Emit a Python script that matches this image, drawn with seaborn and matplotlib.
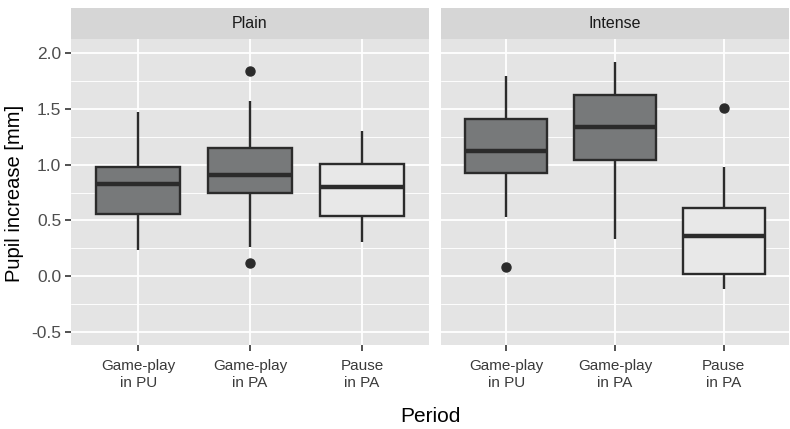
import numpy as np
import pandas as pd
import seaborn as sns
import matplotlib.pyplot as plt
from matplotlib.ticker import MultipleLocator

sns.set_theme(style="darkgrid")
plt.rcParams['font.family'] = ['Liberation Sans', 'DejaVu Sans']

# values (box summary per period)
conditions = ["Plain", "Intense"]
periods = ["Game-play\nin PU", "Game-play\nin PA", "Pause\nin PA"]

plain_lo = [0.234, 0.26, 0.303]
plain_q1 = [0.56, 0.743, 0.539]
plain_med = [0.824, 0.907, 0.797]
plain_q3 = [0.977, 1.15, 1.01]
plain_hi = [1.47, 1.575, 1.30]
plain_out = [[], [0.117, 1.84], []]

intense_lo = [0.533, 0.335, -0.114]
intense_q1 = [0.928, 1.045, 0.018]
intense_med = [1.123, 1.336, 0.362]
intense_q3 = [1.408, 1.623, 0.608]
intense_hi = [1.80, 1.923, 0.979]
intense_out = [[0.078], [], [1.512]]

fill_colors = {periods[0]: "#76797b", periods[1]: "#76797b", periods[2]: "#e8e8e8"}


def sample_from_summary(lo, q1, med, q3, hi, out):
    # 9 points whose quartiles / whiskers match the summary exactly
    lows = sorted(o for o in out if o < lo) + [lo]
    highs = [hi] + sorted(o for o in out if o > hi)
    lows = lows + [q1] * (2 - len(lows))
    highs = [q3] * (2 - len(highs)) + highs
    return lows + [q1, med, med, med, q3] + highs


rows = []
summaries = {
    "Plain": (plain_lo, plain_q1, plain_med, plain_q3, plain_hi, plain_out),
    "Intense": (intense_lo, intense_q1, intense_med, intense_q3, intense_hi, intense_out),
}
for cond in conditions:
    lo, q1, med, q3, hi, out = summaries[cond]
    for i, p in enumerate(periods):
        for v in sample_from_summary(lo[i], q1[i], med[i], q3[i], hi[i], out[i]):
            rows.append({"condition": cond, "period": p, "value": v})
df = pd.DataFrame(rows)

W, H = 790, 429
fig = plt.figure(figsize=(W / 100, H / 100), dpi=100)
fig.patch.set_facecolor("white")

panel_x = [(71, 429), (441, 789)]
top_px, bottom_px = 39, 345
strip_top = 8

line_col = "#2b2b2b"
for k, cond in enumerate(conditions):
    x0, x1 = panel_x[k]
    ax = fig.add_axes([x0 / W, (H - bottom_px) / H, (x1 - x0) / W, (bottom_px - top_px) / H])
    sub = df[df["condition"] == cond]
    sns.boxplot(data=sub, x="period", y="value", hue="period", order=periods,
                hue_order=periods, palette=fill_colors, legend=False, width=0.75,
                linecolor=line_col, linewidth=1.7, showcaps=False, whis=1.5,
                medianprops={"linewidth": 3.2, "color": line_col},
                flierprops={"marker": "o", "markersize": 6.5, "markerfacecolor": line_col,
                            "markeredgecolor": line_col},
                ax=ax, zorder=3)
    ax.set_facecolor("#e4e4e4")
    ax.set_xlim(-0.6, 2.6)
    ax.set_ylim(-0.62, 2.13)
    ax.yaxis.set_major_locator(MultipleLocator(0.5))
    ax.yaxis.set_minor_locator(MultipleLocator(0.25))
    ax.grid(which="major", color="white", linewidth=1.3)
    ax.grid(which="minor", axis="y", color="white", linewidth=0.65)
    ax.set_axisbelow(True)
    for s in ax.spines.values():
        s.set_visible(False)
    ax.set_xlabel("")
    ax.set_ylabel("")
    ax.tick_params(axis="x", which="major", length=4, width=1.2, color="#333333",
                   labelcolor="#3a3a3a", labelsize=11, pad=6, bottom=True)
    ax.tick_params(axis="y", which="both", left=False)
    for t in ax.get_xticklabels():
        t.set_linespacing(1.3)
    if k == 0:
        ax.tick_params(axis="y", which="major", left=True, length=4, width=1.2,
                       color="#333333", labelcolor="#4d4d4d", labelsize=12.5, pad=3)
        ax.set_yticks([-0.5, 0.0, 0.5, 1.0, 1.5, 2.0])
        ax.set_yticklabels(["-0.5", "0.0", "0.5", "1.0", "1.5", "2.0"])
    else:
        ax.set_yticklabels([])

    # facet strip
    sax = fig.add_axes([x0 / W, (H - top_px) / H, (x1 - x0) / W, (top_px - strip_top) / H])
    sax.set_facecolor("#d6d6d6")
    sax.set_xticks([])
    sax.set_yticks([])
    for s in sax.spines.values():
        s.set_visible(False)
    sax.text(0.5, 0.5, cond, ha="center", va="center", fontsize=11.5, color="#1a1a1a",
             transform=sax.transAxes)

fig.text(430 / W, 1 - 416 / H, "Period", ha="center", va="center", fontsize=15, color="black")
fig.text(15 / W, 1 - 193 / H, "Pupil increase [mm]", ha="center", va="center",
         rotation=90, fontsize=14.5, color="black")

fig.savefig("out.png", dpi=100)
